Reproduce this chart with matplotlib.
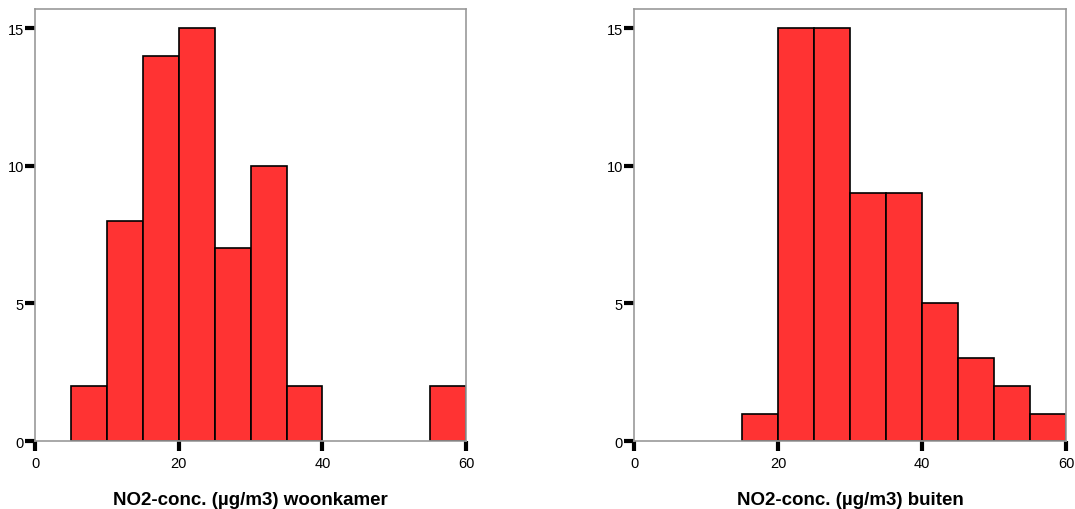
import numpy as np
import matplotlib.pyplot as plt

plt.rcParams['font.family'] = ['Liberation Sans', 'DejaVu Sans']

bin_left = [5, 10, 15, 20, 25, 30, 35, 40, 45, 50, 55]
woonkamer = [2, 8, 14, 15, 7, 10, 2, 0, 0, 0, 2]
buiten = [0, 0, 1, 15, 15, 9, 9, 5, 3, 2, 1]
xticks = [0, 20, 40, 60]
yticks = [0, 5, 10, 15]
labels = ['NO2-conc. (µg/m3) woonkamer', 'NO2-conc. (µg/m3) buiten']

fig = plt.figure(figsize=(10.75, 5.1), dpi=100)
ax1 = fig.add_axes([0.0326, 0.1333, 0.401, 0.847])
ax2 = fig.add_axes([0.5898, 0.1333, 0.402, 0.847])

for ax, counts, lab in [(ax1, woonkamer, labels[0]), (ax2, buiten, labels[1])]:
    x = np.array(bin_left)
    counts = np.array(counts)
    keep = counts > 0
    ax.bar(x[keep], counts[keep], width=5, align='edge', color='#ff3333',
           edgecolor='black', linewidth=1.2, zorder=2)
    ax.set_xlim(0, 60)
    ax.set_ylim(0, 15.7)
    ax.set_xticks(xticks)
    ax.set_yticks(yticks)
    for s in ax.spines.values():
        s.set_color('#999999')
        s.set_linewidth(1.2)
    ax.tick_params(length=7, width=3, color='black', labelsize=10.5,
                   direction='out')
    ax.tick_params(axis='y', pad=1)
    ax.tick_params(axis='x', pad=4)
    ax.set_xlabel(lab, fontsize=13.5, fontweight='bold', labelpad=15)

fig.savefig('out.png', dpi=100)
